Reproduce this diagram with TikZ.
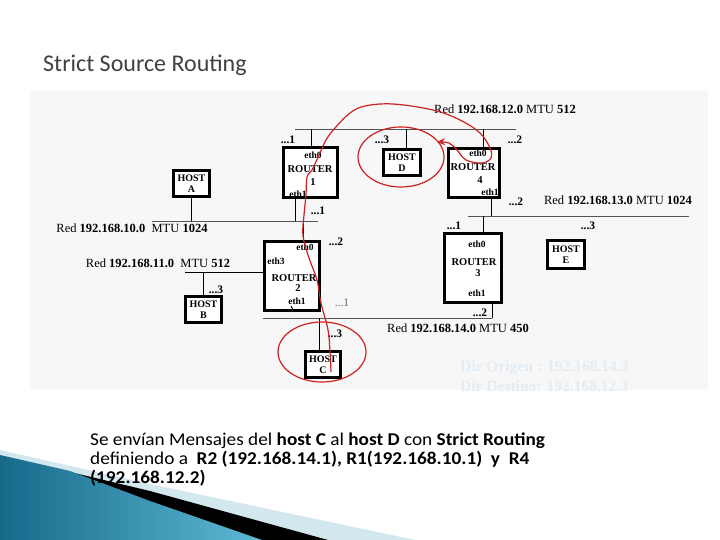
\documentclass[tikz,border=0pt]{standalone}
\usepackage{fontspec}
\setmainfont{Liberation Serif}
\newfontfamily\slidefont[FakeStretch=1.07]{Carlito}
\newfontfamily\titlefont{Carlito}
\usetikzlibrary{arrows.meta}
\definecolor{titlegray}{HTML}{404040}
\definecolor{busgray}{HTML}{555555}
\definecolor{pen}{HTML}{CC2222}
\definecolor{fadeblue}{HTML}{E2ECF4}
\definecolor{tealdark}{HTML}{17698A}
\definecolor{teallight}{HTML}{5CBAD6}
\definecolor{bandlight}{HTML}{D3E7EF}
\definecolor{dotblue}{HTML}{5A6A7A}
\begin{document}
\begin{tikzpicture}[x=1pt,y=-1pt,
  routerbox/.style={draw=black, line width=3pt, fill=white, inner sep=0pt},
  hostbox/.style={draw=black, line width=3pt, fill=white, inner sep=0pt, align=center,
    font=\fontsize{10}{10.5}\selectfont\bfseries},
  ethlbl/.style={inner sep=0pt, font=\fontsize{9.5}{10}\selectfont\bfseries},
  rtlbl/.style={inner sep=0pt, font=\fontsize{10.5}{11}\selectfont\bfseries},
  dotlbl/.style={inner sep=0pt, font=\fontsize{11.5}{12}\selectfont\bfseries},
  netlbl/.style={inner sep=0pt, font=\fontsize{12.5}{13}\selectfont},
  bus/.style={draw=busgray, line width=0.9pt},
  link/.style={draw=black, line width=0.9pt},
  penline/.style={draw=pen, line width=1.2pt},
  msgtext/.style={anchor=base west, inner sep=0pt, font=\slidefont\fontsize{18}{19}\selectfont}
]
\useasboundingbox (0,0) rectangle (720,540);
\fill[white] (0,0) rectangle (720,540);

% bottom-left decoration
\fill[bandlight] (0,450) -- (150,484) -- (415,540) -- (0,540) -- cycle;
\fill[black] (45,466) -- (150,491) -- (328,540) -- (0,540) -- (0,470) -- cycle;
\shade[left color=tealdark, right color=teallight] (0,455) -- (70,471) -- (150,501) -- (262,540) -- (0,540) -- cycle;

% title
\node[anchor=base west, inner sep=0pt, text=titlegray, font=\titlefont\fontsize{24}{27}\selectfont] (title) at (43,72) {Strict Source Routing};

% picture background
\fill[black!3] (30,90) rectangle (708,390);

% bus coordinates
\coordinate (n12L) at (295,129); \coordinate (n12R) at (516,129);
\coordinate (n10L) at (152,221); \coordinate (n10R) at (318,221);
\coordinate (n11L) at (185,272);
\coordinate (n13L) at (468,216); \coordinate (n13R) at (689,216);
\coordinate (n14L) at (263,318); \coordinate (n14R) at (492,318);

\draw[bus] (n12L) -- (n12R);
\draw[bus] (n10L) -- (n10R);
\draw[bus] (n13L) -- (n13R);
\draw[bus] (n14L) -- (n14R);

% routers
\node[routerbox, minimum width=54pt, minimum height=50pt] (r1) at (310.5,172.5) {};
\node[routerbox, minimum width=55pt, minimum height=69pt] (r2) at (292,276) {};
\node[routerbox, minimum width=57pt, minimum height=69pt] (r3) at (473,268) {};
\node[routerbox, minimum width=51pt, minimum height=49pt] (r4) at (474,173) {};

% hosts
\node[hostbox, minimum width=36pt, minimum height=26pt] (ha) at (191.5,183.5) {HOST\\A};
\node[hostbox, minimum width=36pt, minimum height=26pt] (hb) at (203.5,309.5) {HOST\\B};
\node[hostbox, minimum width=35pt, minimum height=26pt] (hc) at (323,364.5) {HOST\\C};
\node[hostbox, minimum width=37pt, minimum height=26pt] (hd) at (402,162.5) {HOST\\D};
\node[hostbox, line width=2.2pt, minimum width=37pt, minimum height=28pt] (he) at (566,254.5) {HOST\\E};

% links
\draw[link] ([xshift=0.5pt]r1.north) -- ([xshift=0.5pt]r1.north |- n12L);
\draw[link] ([xshift=4pt]hd.north) -- ([xshift=4pt]hd.north |- n12L);
\draw[link] ([xshift=9pt]r4.north) -- ([xshift=9pt]r4.north |- n12L);
\draw[link] ([xshift=-15.5pt]r1.south) -- ([xshift=-15.5pt]r1.south |- n10L);
\draw[link] (ha.south) -- (ha.south |- n10L);
\draw[link] ([xshift=11pt]r2.north) -- ([xshift=11pt]r2.north |- n10L);
\draw[link] (n11L) -- (r2.west |- n11L);
\draw[link] (hb.north) -- (hb.north |- n11L);
\draw[link] ([xshift=2pt]r2.south) -- ([xshift=-1pt,yshift=6pt]r2.south);
\draw[link] ([xshift=-4pt]hc.north) -- ([xshift=-4pt]hc.north |- n14L);
\draw[link] ([xshift=19pt]r3.south) -- ([xshift=19pt]r3.south |- n14L);
\draw[link] ([xshift=17pt]r4.south) -- ([xshift=17pt]r4.south |- n13L);
\draw[link] ([xshift=10pt]r3.north) -- ([xshift=10pt]r3.north |- n13L);

% router labels
\node[ethlbl] (r1e0) at (313,155) {eth0};
\node[rtlbl] (r1t) at (310,169) {ROUTER};
\node[rtlbl] (r1n) at (313,182) {1};
\node[ethlbl] (r1e1) at (298,194) {eth1};

\node[ethlbl] (r2e0) at (305,247) {eth0};
\node[ethlbl] (r2e3) at (276,261) {eth3};
\node[rtlbl] (r2t) at (294,278) {ROUTER};
\node[rtlbl] (r2n) at (298,288) {2};
\node[ethlbl] (r2e1) at (297,301) {eth1};

\node[ethlbl] (r3e0) at (477,244) {eth0};
\node[rtlbl] (r3t) at (474,262) {ROUTER};
\node[rtlbl] (r3n) at (478,273) {3};
\node[ethlbl] (r3e1) at (477,293) {eth1};

\node[ethlbl] (r4e0) at (478,153) {eth0};
\node[rtlbl] (r4t) at (473,167) {ROUTER};
\node[rtlbl] (r4n) at (480,180) {4};
\node[ethlbl] (r4e1) at (490,192) {eth1};

% address suffix labels
\node[dotlbl] (d1) at (288,140) {...1};
\node[dotlbl] (d2) at (382,140) {...3};
\node[dotlbl] (d3) at (515,140) {...2};
\node[dotlbl] (d4) at (318,211) {...1};
\node[dotlbl] (d5) at (516,202) {...2};
\node[dotlbl] (d6) at (336,242) {...2};
\node[dotlbl] (d7) at (454,226) {...1};
\node[dotlbl] (d8) at (588,226) {...3};
\node[dotlbl] (d9) at (216,290) {...3};
\node[dotlbl, text=dotblue, font=\fontsize{11.5}{12}\selectfont] (d10) at (342,303) {...1};
\node[dotlbl] (d11) at (480,313) {...2};
\node[dotlbl] (d12) at (335,334) {...3};

% network labels
\node[netlbl] (l12) at (505,109) {Red \textbf{192.168.12.0} MTU \textbf{512}};
\node[netlbl] (l13) at (618,200) {Red \textbf{192.168.13.0} MTU \textbf{1024}};
\node[netlbl] (l10) at (132,228) {Red \textbf{192.168.10.0}\ \ MTU \textbf{1024}};
\node[netlbl] (l11) at (158,263) {Red \textbf{192.168.11.0}\ \ MTU \textbf{512}};
\node[netlbl] (l14) at (458,328) {Red \textbf{192.168.14.0} MTU \textbf{450}};

% faded addresses
\node[anchor=west, inner sep=0pt, text=fadeblue, font=\fontsize{15.5}{16}\selectfont\bfseries] (dor) at (460,368) {Dir Origen : 192.168.14.3};
\node[anchor=west, inner sep=0pt, text=fadeblue, font=\fontsize{15.5}{16}\selectfont\bfseries] (dde) at (460,386) {Dir Destino: 192.168.12.3};

% red hand-drawn annotations
\draw[penline] (401,157) ellipse [x radius=43, y radius=30];
\draw[penline] (322,352) ellipse [x radius=44, y radius=30];
\draw[penline, -{Stealth[length=8pt,width=7pt]}] plot[smooth, tension=0.6] coordinates {
 (331,372) (330,352) (328,330) (321,303) (317,280) (309,258) (303,236) (304,215)
 (306,195) (307,177) (312,170) (320,153) (326,140) (335,128) (350,113) (365,106)
 (393,104) (433,110) (460,120) (480,133) (490,148) (491,158) (482,163) (466,160)
 (457,150) (449,143) (437,142)};

% message text
\node[msgtext] (msg1) at (90,445)
 {Se envían Mensajes del \textbf{host C} al \textbf{host D} con \textbf{Strict Routing}};
\node[msgtext] (msg2) at (90,464)
 {definiendo a \ \textbf{R2 (192.168.14.1), R1(192.168.10.1) \ y \ R4}};
\node[msgtext] (msg3) at (90,483)
 {\textbf{(192.168.12.2)}};
\end{tikzpicture}
\end{document}
